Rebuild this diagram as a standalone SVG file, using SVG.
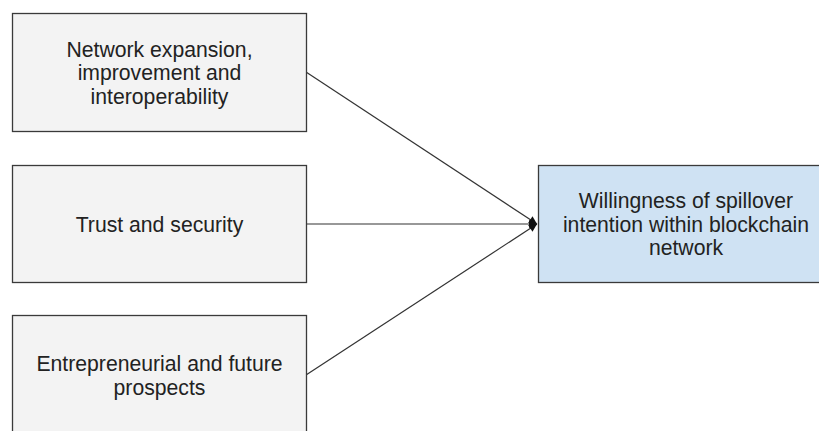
<svg xmlns="http://www.w3.org/2000/svg" width="819" height="431" viewBox="0 0 819 431">
<style>
.box{fill:#f3f3f3;stroke:#3a3a3a;stroke-width:1.3}
.blue{fill:#cfe2f3;stroke:#3a3a3a;stroke-width:1.3}
.t{font-family:"Liberation Sans",Arial,sans-serif;font-size:21.2px;fill:#222;text-anchor:middle}
.c{stroke:#333;stroke-width:1.2;fill:none;marker-end:url(#ah)}
</style>
<defs>
<marker id="ah" viewBox="0 0 10 10" refX="10" refY="5" markerWidth="9" markerHeight="8" markerUnits="userSpaceOnUse" orient="auto">
<path d="M0,0 L10,5 L0,10 z" fill="#111"/>
</marker>
</defs>
<rect width="819" height="431" fill="#ffffff"/>
<g id="connectors">
<line class="c" x1="306" y1="72" x2="537" y2="224"/>
<line class="c" x1="306" y1="224" x2="537" y2="224"/>
<line class="c" x1="306" y1="375" x2="537" y2="224"/>
</g>
<g id="node-network">
<rect class="box" x="12.5" y="13.5" width="294" height="118"/>
<text class="t" x="159.5" y="56.5">Network expansion,</text>
<text class="t" x="159.5" y="80">improvement and</text>
<text class="t" x="159.5" y="103.5">interoperability</text>
</g>
<g id="node-trust">
<rect class="box" x="12.5" y="165.5" width="294" height="117"/>
<text class="t" x="159.5" y="231.5">Trust and security</text>
</g>
<g id="node-entre">
<rect class="box" x="12.5" y="315.5" width="294" height="120"/>
<text class="t" x="159.5" y="371">Entrepreneurial and future</text>
<text class="t" x="159.5" y="394.5">prospects</text>
</g>
<g id="node-willingness">
<rect class="blue" x="538.5" y="165.5" width="296" height="117"/>
<text class="t" x="686" y="208">Willingness of spillover</text>
<text class="t" x="686" y="231.5">intention within blockchain</text>
<text class="t" x="686" y="255">network</text>
</g>
</svg>
